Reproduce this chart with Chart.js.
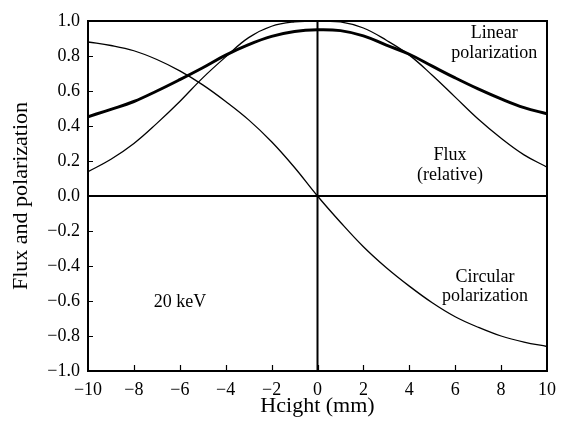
<!DOCTYPE html>
<html>
<head>
<meta charset="utf-8">
<script src="https://cdn.jsdelivr.net/npm/chart.js@4/dist/chart.umd.min.js"></script>
<style>
  html, body { margin: 0; padding: 0; background: #fff; }
  #wrap { width: 564px; height: 427px; }
</style>
</head>
<body>
<div id="wrap"><canvas id="chart" width="564" height="427"></canvas></div>
<script>
'use strict';

// Height across the beam (mm)
const heights = [-10, -9, -8, -7, -6, -5, -4, -3, -2, -1, 0, 1, 2, 3, 4, 5, 6, 7, 8, 9, 10];

// Degree of linear polarization (thick curve)
const linearPol = [0.453, 0.495, 0.54, 0.60, 0.665, 0.733, 0.805, 0.865, 0.912, 0.94, 0.95,
                   0.945, 0.915, 0.862, 0.81, 0.742, 0.675, 0.612, 0.555, 0.505, 0.47];

// Relative flux
const flux = [0.139, 0.21, 0.30, 0.415, 0.54, 0.675, 0.795, 0.905, 0.97, 0.995, 1.0,
              0.995, 0.96, 0.89, 0.805, 0.69, 0.565, 0.44, 0.33, 0.235, 0.165];

// Degree of circular polarization
const circularPol = [0.88, 0.86, 0.83, 0.78, 0.715, 0.635, 0.54, 0.435, 0.31, 0.163, 0.0,
                     -0.15, -0.29, -0.41, -0.515, -0.61, -0.69, -0.75, -0.80, -0.835, -0.86];

const xTicks = [-10, -8, -6, -4, -2, 0, 2, 4, 6, 8, 10];
const yTicks = [-1.0, -0.8, -0.6, -0.4, -0.2, 0.0, 0.2, 0.4, 0.6, 0.8, 1.0];

// Curve labels: [text lines, x (mm), y (value) per line, align]
const notes = [
    [['Linear', 'polarization'], 7.7, [0.93, 0.817], 'center'],
    [['Flux', '(relative)'], 5.77, [0.234, 0.12], 'center'],
    [['Circular', 'polarization'], 7.3, [-0.463, -0.571], 'center'],
    [['20 keV'], -7.14, [-0.606], 'left']
];

const serif = '"Liberation Serif", "Times New Roman", serif';

const toPoints = (ys) => heights.map((x, i) => ({ x: x, y: ys[i] }));
const minus = (s) => s.replace('-', '\u2212');

// Frame, zero lines, inward tick marks and the curve labels
const decorPlugin = {
    id: 'decor',
    afterDatasetsDraw(chart) {
        const { ctx, chartArea: a, scales: { x, y } } = chart;
        ctx.save();
        ctx.strokeStyle = '#000';
        ctx.lineCap = 'butt';

        ctx.lineWidth = 1.2;
        ctx.beginPath();
        xTicks.slice(1, -1).forEach(v => {
            const px = Math.round(x.getPixelForValue(v)) + 0.5;
            ctx.moveTo(px, a.bottom);
            ctx.lineTo(px, a.bottom - 6);
        });
        yTicks.slice(1, -1).forEach(v => {
            const py = Math.round(y.getPixelForValue(v)) + 0.5;
            ctx.moveTo(a.left, py);
            ctx.lineTo(a.left + 5, py);
        });
        ctx.stroke();

        ctx.lineWidth = 2;
        ctx.beginPath();
        const x0 = x.getPixelForValue(0);
        const y0 = y.getPixelForValue(0);
        ctx.moveTo(x0, a.top);
        ctx.lineTo(x0, a.bottom);
        ctx.moveTo(a.left, y0);
        ctx.lineTo(a.right, y0);
        ctx.stroke();

        ctx.strokeRect(a.left, a.top, a.right - a.left, a.bottom - a.top);

        ctx.fillStyle = '#000';
        ctx.font = '18px ' + serif;
        ctx.textBaseline = 'middle';
        notes.forEach(([lines, nx, nys, align]) => {
            ctx.textAlign = align;
            lines.forEach((t, i) => {
                ctx.fillText(t, x.getPixelForValue(nx), y.getPixelForValue(nys[i]));
            });
        });
        ctx.restore();
    }
};

const lineSet = (data, width) => ({
    data: toPoints(data),
    borderColor: '#000',
    borderWidth: width,
    pointRadius: 0,
    fill: false,
    tension: 0.4
});

new Chart(document.getElementById('chart'), {
    type: 'line',
    data: {
        datasets: [
            lineSet(linearPol, 3),
            lineSet(flux, 1.3),
            lineSet(circularPol, 1.3)
        ]
    },
    options: {
        responsive: false,
        animation: false,
        layout: { padding: { top: 21, right: 8, left: 0, bottom: 0 } },
        plugins: {
            legend: { display: false },
            tooltip: { enabled: false }
        },
        scales: {
            x: {
                type: 'linear',
                min: -10,
                max: 10,
                afterBuildTicks: (scale) => { scale.ticks = xTicks.map(v => ({ value: v })); },
                afterFit: (scale) => { scale.height = 56; },
                border: { display: false },
                grid: { display: false, drawTicks: false },
                ticks: {
                    color: '#000',
                    padding: 8,
                    maxRotation: 0,
                    font: { family: serif, size: 18 },
                    callback: (v) => minus(String(v))
                },
                title: {
                    display: true,
                    text: 'Hcight (mm)',
                    color: '#000',
                    padding: { top: 0, bottom: 8 },
                    font: { family: serif, size: 22 }
                }
            },
            y: {
                min: -1,
                max: 1,
                afterBuildTicks: (scale) => { scale.ticks = yTicks.map(v => ({ value: v })); },
                afterFit: (scale) => { scale.width = 88; },
                border: { display: false },
                grid: { display: false, drawTicks: false },
                ticks: {
                    color: '#000',
                    padding: 8,
                    font: { family: serif, size: 18 },
                    callback: (v) => minus(v.toFixed(1))
                },
                title: {
                    display: true,
                    text: 'Flux and polarization',
                    color: '#000',
                    padding: { top: 8, bottom: 0 },
                    font: { family: serif, size: 22 }
                }
            }
        }
    },
    plugins: [decorPlugin]
});
</script>
</body>
</html>
